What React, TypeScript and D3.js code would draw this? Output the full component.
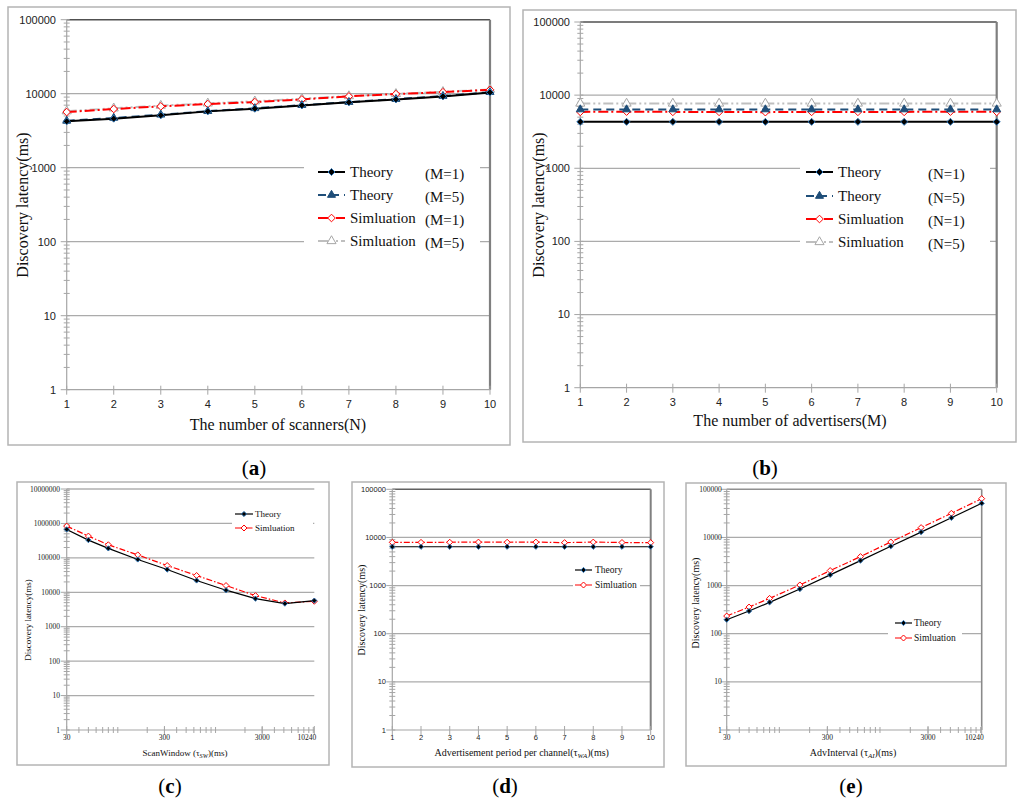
import React from 'react';
import * as d3 from 'd3';

// ---------- data ----------
const countsX = [1, 2, 3, 4, 5, 6, 7, 8, 9, 10];
const windowX = [30, 50, 80, 160, 320, 640, 1280, 2560, 5120, 10240];

const aTheoryM1 = [4230, 4600, 5100, 5770, 6270, 6950, 7640, 8380, 9200, 10400];
const aTheoryM5 = [4300, 4700, 5200, 5800, 6350, 7000, 7700, 8450, 9300, 10500];
const aSimM1 = [5650, 6210, 6740, 7250, 7710, 8380, 9200, 9900, 10500, 11300];
const aSimM5 = [5800, 6350, 6900, 7400, 7900, 8550, 9300, 9950, 10600, 11400];

const bTheoryN1 = [4310, 4310, 4310, 4310, 4310, 4310, 4310, 4310, 4310, 4310];
const bTheoryN5 = [6370, 6370, 6370, 6370, 6370, 6370, 6370, 6370, 6370, 6370];
const bSimN1 = [5900, 5950, 5900, 5900, 5850, 5900, 5900, 5900, 5950, 5900];
const bSimN5 = [7690, 7690, 7690, 7690, 7690, 7690, 7690, 7690, 7690, 7690];

const cTheory = [670000, 328000, 188000, 89600, 45800, 22000, 11500, 6550, 4690, 5730];
const cSim = [837000, 429000, 240000, 122000, 59900, 30700, 15700, 8000, 4900, 5480];

const dTheory = [6400, 6400, 6400, 6400, 6400, 6400, 6400, 6400, 6400, 6400];
const dSim = [7900, 7900, 7950, 8000, 7950, 8000, 7800, 8000, 7850, 7800];

const eTheory = [195, 296, 448, 848, 1670, 3300, 6560, 12900, 25600, 51200];
const eSim = [233, 358, 542, 1030, 2050, 4000, 8050, 16000, 31700, 64000];

const logXTicks = [30, 300, 3000, 10240];

const serif = "'Liberation Serif', 'Times New Roman', serif";
const sans = "'Liberation Sans', Arial, sans-serif";

type Series = {
  values: number[];
  color: string;
  width: number;
  dash?: string;
  marker: 'diamond' | 'triangle';
  fill: string;
  mstroke: string;
  msize: number;
  label: string;
  param?: string;
};

type PanelCfg = {
  frame: [number, number, number, number];
  plot: [number, number, number, number];
  xs: number[];
  xLog: boolean;
  xDomain: [number, number];
  xTicks: number[];
  yMax: number;
  yFont: string;
  yFontSize: number;
  yLabelX: number;
  xLabelY: number;
  xFont: string;
  xFontSize: number;
  xTitle: React.ReactNode;
  xTitleX: number;
  xTitleY: number;
  xTitleSize: number;
  yTitleX: number;
  yTitleY: number;
  yTitleSize: number;
  topColor: string;
  rightColor?: string;
  rightWidth?: number;
  series: Series[];
  legend: {
    box: [number, number, number, number];
    lx0: number;
    lx1: number;
    tx: number;
    px?: number;
    rows: number[];
    size: number;
  };
};

function markerPath(type: string, size: number) {
  if (type === 'diamond') {
    const r = size;
    return `M0,${-r}L${r},0L0,${r}L${-r},0Z`;
  }
  return d3.symbol().type(d3.symbolTriangle).size(size)() as string;
}

function Panel({ c }: { c: PanelCfg }) {
  const [px0, py0, px1, py1] = c.plot;
  const x: any = c.xLog
    ? d3.scaleLog().domain(c.xDomain).range([px0, px1])
    : d3.scaleLinear().domain(c.xDomain).range([px0, px1]);
  const y = d3.scaleLog().domain([1, c.yMax]).range([py1, py0]);
  const nDec = Math.round(Math.log10(c.yMax));
  const decades = d3.range(0, nDec + 1).map((i) => Math.pow(10, i));
  const minorY: number[] = [];
  decades.slice(0, -1).forEach((d) => {
    for (let k = 2; k <= 9; k++) minorY.push(d * k);
  });
  const minorX: number[] = [];
  if (c.xLog) {
    [10, 100, 1000, 10000].forEach((d) => {
      for (let k = 1; k <= 9; k++) {
        const v = d * k;
        if (v > c.xDomain[0] && v < c.xDomain[1]) minorX.push(v);
      }
    });
  }
  const line = d3
    .line<number>()
    .x((_, i) => x(c.xs[i]))
    .y((v) => y(v));
  const [fx0, fy0, fx1, fy1] = c.frame;
  const lg = c.legend;
  return (
    <g>
      <rect x={fx0} y={fy0} width={fx1 - fx0} height={fy1 - fy0} fill="white" stroke="#b4b4b4" strokeWidth={1.5} />
      {decades.slice(1).map((d, i) => (
        <line
          key={'g' + i}
          x1={px0}
          x2={px1}
          y1={y(d)}
          y2={y(d)}
          stroke={d === c.yMax ? c.topColor : '#ababab'}
          strokeWidth={d === c.yMax ? 1.6 : 1.2}
        />
      ))}
      {c.rightColor && (
        <line x1={px1} x2={px1} y1={py0} y2={py1} stroke={c.rightColor} strokeWidth={c.rightWidth || 2} />
      )}
      <line x1={px0} x2={px0} y1={py0} y2={py1} stroke="#a6a6a6" strokeWidth={1.2} />
      {minorY.map((v, i) => (
        <line key={'my' + i} x1={px0 - 3} x2={px0 + 3} y1={y(v)} y2={y(v)} stroke="#a6a6a6" strokeWidth={1} />
      ))}
      {decades.map((d, i) => (
        <line key={'My' + i} x1={px0 - 6} x2={px0 + 3} y1={y(d)} y2={y(d)} stroke="#a6a6a6" strokeWidth={1} />
      ))}
      {decades.map((d, i) => (
        <text
          key={'yl' + i}
          x={c.yLabelX}
          y={y(d)}
          dy="0.35em"
          textAnchor="end"
          fontFamily={c.yFont}
          fontSize={c.yFontSize}
          fill="#222"
        >
          {d}
        </text>
      ))}
      <line x1={px0} x2={px1} y1={py1} y2={py1} stroke="#a6a6a6" strokeWidth={1.2} />
      {minorX.map((v, i) => (
        <line key={'mx' + i} x1={x(v)} x2={x(v)} y1={py1 - 3} y2={py1 + 3} stroke="#a6a6a6" strokeWidth={1} />
      ))}
      {c.xTicks.map((v, i) => (
        <line key={'Mx' + i} x1={x(v)} x2={x(v)} y1={py1 - 4} y2={py1 + 5} stroke="#a6a6a6" strokeWidth={1} />
      ))}
      {c.xTicks.map((v, i) => {
        const last = c.xLog && i === c.xTicks.length - 1;
        return (
          <text
            key={'xl' + i}
            x={last ? x(v) + 2 : x(v)}
            y={c.xLabelY}
            textAnchor={last ? 'end' : 'middle'}
            fontFamily={c.xFont}
            fontSize={c.xFontSize}
            fill="#222"
          >
            {v}
          </text>
        );
      })}
      {[...c.series].reverse().map((s, si) => (
        <g key={'s' + si}>
          <path d={line(s.values) as string} fill="none" stroke={s.color} strokeWidth={s.width} strokeDasharray={s.dash} />
          {s.values.map((v, i) => (
            <path
              key={i}
              d={markerPath(s.marker, s.msize)}
              transform={`translate(${x(c.xs[i])},${y(v)})`}
              fill={s.fill}
              stroke={s.mstroke}
              strokeWidth={1}
            />
          ))}
        </g>
      ))}
      <rect x={lg.box[0]} y={lg.box[1]} width={lg.box[2] - lg.box[0]} height={lg.box[3] - lg.box[1]} fill="white" />
      {c.series.map((s, i) => (
        <g key={'lg' + i}>
          <line x1={lg.lx0} x2={lg.lx1} y1={lg.rows[i]} y2={lg.rows[i]} stroke={s.color} strokeWidth={s.width} strokeDasharray={s.dash} />
          <path
            d={markerPath(s.marker, s.msize)}
            transform={`translate(${(lg.lx0 + lg.lx1) / 2},${lg.rows[i]})`}
            fill={s.fill}
            stroke={s.mstroke}
            strokeWidth={1}
          />
          <text x={lg.tx} y={lg.rows[i]} dy="0.3em" fontFamily={serif} fontSize={lg.size} fill="#111">
            {s.label}
          </text>
          {s.param && lg.px && (
            <text x={lg.px} y={lg.rows[i] + 2} dy="0.3em" fontFamily={serif} fontSize={lg.size} fill="#111">
              {s.param}
            </text>
          )}
        </g>
      ))}
      <text x={c.xTitleX} y={c.xTitleY} textAnchor="middle" fontFamily={serif} fontSize={c.xTitleSize} fill="#111">
        {c.xTitle}
      </text>
      <text
        transform={`translate(${c.yTitleX},${c.yTitleY}) rotate(-90)`}
        textAnchor="middle"
        dy="0.35em"
        fontFamily={serif}
        fontSize={c.yTitleSize}
        fill="#111"
      >
        Discovery latency(ms)
      </text>
    </g>
  );
}

const bigStyles = (v: number[][], params: string[]): Series[] => [
  { values: v[0], color: '#000', width: 2, marker: 'diamond', fill: '#000', mstroke: '#2e75b6', msize: 3.5, label: 'Theory', param: params[0] },
  { values: v[1], color: '#1f4e79', width: 2, dash: '8,5', marker: 'triangle', fill: '#1f4e79', mstroke: '#1f4e79', msize: 28, label: 'Theory', param: params[1] },
  { values: v[2], color: '#ff0000', width: 2, dash: '10,3,2,3', marker: 'diamond', fill: 'white', mstroke: '#ff0000', msize: 3.8, label: 'Simluation', param: params[2] },
  { values: v[3], color: '#bfbfbf', width: 2, dash: '10,3,2,3,2,3', marker: 'triangle', fill: 'white', mstroke: '#a6a6a6', msize: 36, label: 'Simluation', param: params[3] },
];

const smallStyles = (t: number[], s: number[]): Series[] => [
  { values: t, color: '#000', width: 1.2, marker: 'diamond', fill: '#000', mstroke: '#2e75b6', msize: 2.6, label: 'Theory' },
  { values: s, color: '#ff0000', width: 1.2, dash: '6,2,1.5,2', marker: 'diamond', fill: 'white', mstroke: '#ff0000', msize: 3, label: 'Simluation' },
];

const sub = (main: string, s: string, rest: string) => (
  <>
    {main}
    <tspan fontStyle="italic" fontSize="0.7em" dy="2">
      {s}
    </tspan>
    <tspan dy="-2">{rest}</tspan>
  </>
);

export default function App() {
  const panels: PanelCfg[] = [
    {
      frame: [8, 7, 510, 445],
      plot: [66.7, 19.7, 490, 389.7],
      xs: countsX,
      xLog: false,
      xDomain: [1, 10],
      xTicks: countsX,
      yMax: 100000,
      yFont: sans,
      yFontSize: 11,
      yLabelX: 56,
      xLabelY: 408,
      xFont: sans,
      xFontSize: 11,
      xTitle: 'The number of scanners(N)',
      xTitleX: 278,
      xTitleY: 430,
      xTitleSize: 16,
      yTitleX: 22,
      yTitleY: 205,
      yTitleSize: 16,
      topColor: '#505050',
      rightColor: '#7f7f7f',
      rightWidth: 2.2,
      series: bigStyles([aTheoryM1, aTheoryM5, aSimM1, aSimM5], ['(M=1)', '(M=5)', '(M=1)', '(M=5)']),
      legend: { box: [304, 156, 480, 256], lx0: 318, lx1: 345, tx: 350, px: 425, rows: [172, 195, 218, 241], size: 15 },
    },
    {
      frame: [523, 10, 1016, 442],
      plot: [580.3, 22, 996.7, 387.7],
      xs: countsX,
      xLog: false,
      xDomain: [1, 10],
      xTicks: countsX,
      yMax: 100000,
      yFont: sans,
      yFontSize: 11,
      yLabelX: 570,
      xLabelY: 406,
      xFont: sans,
      xFontSize: 11,
      xTitle: 'The number of advertisers(M)',
      xTitleX: 790,
      xTitleY: 426,
      xTitleSize: 16,
      yTitleX: 538,
      yTitleY: 205,
      yTitleSize: 16,
      topColor: '#505050',
      rightColor: '#7f7f7f',
      rightWidth: 2.2,
      series: bigStyles([bTheoryN1, bTheoryN5, bSimN1, bSimN5], ['(N=1)', '(N=5)', '(N=1)', '(N=5)']),
      legend: { box: [800, 156, 990, 256], lx0: 806, lx1: 833, tx: 838, px: 928, rows: [172, 196, 219, 242], size: 15 },
    },
    {
      frame: [17, 482, 329, 765],
      plot: [66.7, 489, 314.3, 730],
      xs: windowX,
      xLog: true,
      xDomain: [30, 10240],
      xTicks: logXTicks,
      yMax: 10000000,
      yFont: serif,
      yFontSize: 7.5,
      yLabelX: 60,
      xLabelY: 740,
      xFont: serif,
      xFontSize: 7.5,
      xTitle: sub('ScanWindow (τ', 'SW', ')(ms)'),
      xTitleX: 185,
      xTitleY: 756,
      xTitleSize: 9,
      yTitleX: 28,
      yTitleY: 620,
      yTitleSize: 9,
      topColor: '#b0b0b0',
      series: smallStyles(cTheory, cSim),
      legend: { box: [232, 506, 313, 535], lx0: 235, lx1: 253, tx: 255, rows: [514, 528], size: 9 },
    },
    {
      frame: [352, 482, 664, 767],
      plot: [392.3, 489.3, 650.7, 730],
      xs: countsX,
      xLog: false,
      xDomain: [1, 10],
      xTicks: countsX,
      yMax: 100000,
      yFont: sans,
      yFontSize: 7.5,
      yLabelX: 386,
      xLabelY: 740,
      xFont: sans,
      xFontSize: 7.5,
      xTitle: sub('Advertisement period per channel(τ', 'WA', ')(ms)'),
      xTitleX: 521.7,
      xTitleY: 756,
      xTitleSize: 10,
      yTitleX: 361.7,
      yTitleY: 610,
      yTitleSize: 10,
      topColor: '#606060',
      rightColor: '#808080',
      rightWidth: 2,
      series: smallStyles(dTheory, dSim),
      legend: { box: [573, 562, 640, 592], lx0: 575, lx1: 592, tx: 595, rows: [570, 585], size: 9.5 },
    },
    {
      frame: [686, 483, 1006, 766],
      plot: [726.7, 489.3, 981.7, 730],
      xs: windowX,
      xLog: true,
      xDomain: [30, 10240],
      xTicks: logXTicks,
      yMax: 100000,
      yFont: serif,
      yFontSize: 7.5,
      yLabelX: 721.7,
      xLabelY: 740,
      xFont: serif,
      xFontSize: 7.5,
      xTitle: sub('AdvInterval (τ', 'AI', ')(ms)'),
      xTitleX: 853,
      xTitleY: 756,
      xTitleSize: 10,
      yTitleX: 695.7,
      yTitleY: 603,
      yTitleSize: 10,
      topColor: '#909090',
      rightColor: '#8a8a8a',
      rightWidth: 1.6,
      series: smallStyles(eTheory, eSim),
      legend: { box: [888, 615, 962, 646], lx0: 895, lx1: 912, tx: 914, rows: [623, 638], size: 9.5 },
    },
  ];
  const captions: [string, number, number][] = [
    ['a', 254, 475],
    ['b', 765, 475],
    ['c', 170, 793],
    ['d', 505, 793],
    ['e', 851, 793],
  ];
  return (
    <svg width={1024} height={808} style={{ position: 'absolute', left: 0, top: 0, background: 'white' }}>
      <rect x={0} y={0} width={1024} height={808} fill="white" />
      {panels.map((p, i) => (
        <Panel key={i} c={p} />
      ))}
      {captions.map(([t, cx, cy]) => (
        <text key={t} x={cx} y={cy} textAnchor="middle" fontFamily={serif} fontSize={21} fill="#000">
          (<tspan fontWeight="bold">{t}</tspan>)
        </text>
      ))}
    </svg>
  );
}
